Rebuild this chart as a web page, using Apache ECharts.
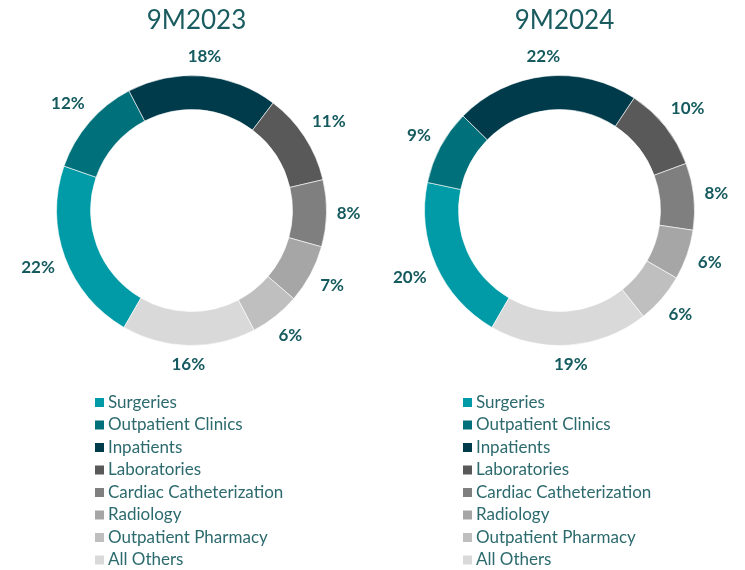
<!DOCTYPE html>
<html>
<head>
<meta charset="utf-8">
<script src="https://cdn.jsdelivr.net/npm/echarts@6/dist/echarts.min.js"></script>
<style>
  html, body { margin: 0; padding: 0; background: #fff; }
  #chart { width: 745px; height: 570px; }
</style>
</head>
<body>
<div id="chart"></div>
<script>
const categories = [
  'Surgeries',
  'Outpatient Clinics',
  'Inpatients',
  'Laboratories',
  'Cardiac Catheterization',
  'Radiology',
  'Outpatient Pharmacy',
  'All Others'
];
const colors = ['#009BA6', '#00717A', '#003B4B', '#595959', '#7F7F7F', '#A6A6A6', '#BFBFBF', '#D9D9D9'];
const periods = ['9M2023', '9M2024'];
const values2023 = [22, 12, 18, 11, 8, 7, 6, 16];
const values2024 = [20, 9, 22, 10, 8, 6, 6, 19];

const chart = echarts.init(document.getElementById('chart'));
const font = 'Lato, "Open Sans", sans-serif';
const teal = '#155A5E';
const centers = [[191.5, 210.5], [559.5, 210.5]];
const outerR = 135;
const startDeg = 210; // clockwise from 12 o'clock
const labelGap = 10;

// centre each label just outside the ring on its slice's mid angle
const placeLabel = (values, center) => (params) => {
  const total = values.reduce((a, b) => a + b, 0);
  let before = 0;
  for (let i = 0; i < params.dataIndex; i++) before += values[i];
  const mid = startDeg + 360 * (before + values[params.dataIndex] / 2) / total;
  const rad = mid * Math.PI / 180;
  const ux = Math.sin(rad), uy = -Math.cos(rad);
  const w = params.labelRect.width, h = params.labelRect.height;
  const dist = outerR + labelGap + Math.abs(ux) * w / 2 + Math.abs(uy) * h / 2;
  return {
    x: center[0] + ux * dist,
    y: center[1] + uy * dist,
    align: 'center',
    verticalAlign: 'middle'
  };
};

const makeSeries = (values, center) => ({
  type: 'pie',
  center,
  radius: [101, outerR],
  startAngle: 90 - startDeg,
  clockwise: true,
  avoidLabelOverlap: false,
  animation: false,
  data: categories.map((name, i) => ({ name, value: values[i] })),
  itemStyle: { borderColor: '#fff', borderWidth: 0.6 },
  label: {
    show: true,
    position: 'outside',
    formatter: '{c}%',
    color: teal,
    fontFamily: font,
    fontWeight: 'bold',
    fontSize: 17
  },
  labelLine: { show: false },
  labelLayout: placeLabel(values, center),
  emphasis: { disabled: true }
});

const makeLegend = (left) => ({
  orient: 'vertical',
  left,
  top: 394,
  height: 180,
  padding: 0,
  itemWidth: 11,
  itemHeight: 11,
  itemGap: 5.5,
  icon: 'rect',
  selectedMode: false,
  data: categories,
  textStyle: { color: '#2C6A6E', fontFamily: font, fontSize: 17, lineHeight: 17, padding: [0, 0, 0, -2] }
});

const titleStyle = { color: '#1A5C60', fontFamily: font, fontSize: 26, fontWeight: 'normal' };

chart.setOption({
  color: colors,
  title: [
    { text: periods[0], left: centers[0][0], top: 3, textAlign: 'center', textStyle: titleStyle },
    { text: periods[1], left: centers[1][0], top: 3, textAlign: 'center', textStyle: titleStyle }
  ],
  legend: [makeLegend(93), makeLegend(461)],
  series: [makeSeries(values2023, centers[0]), makeSeries(values2024, centers[1])]
});

window.addEventListener('resize', () => chart.resize());
</script>
</body>
</html>
